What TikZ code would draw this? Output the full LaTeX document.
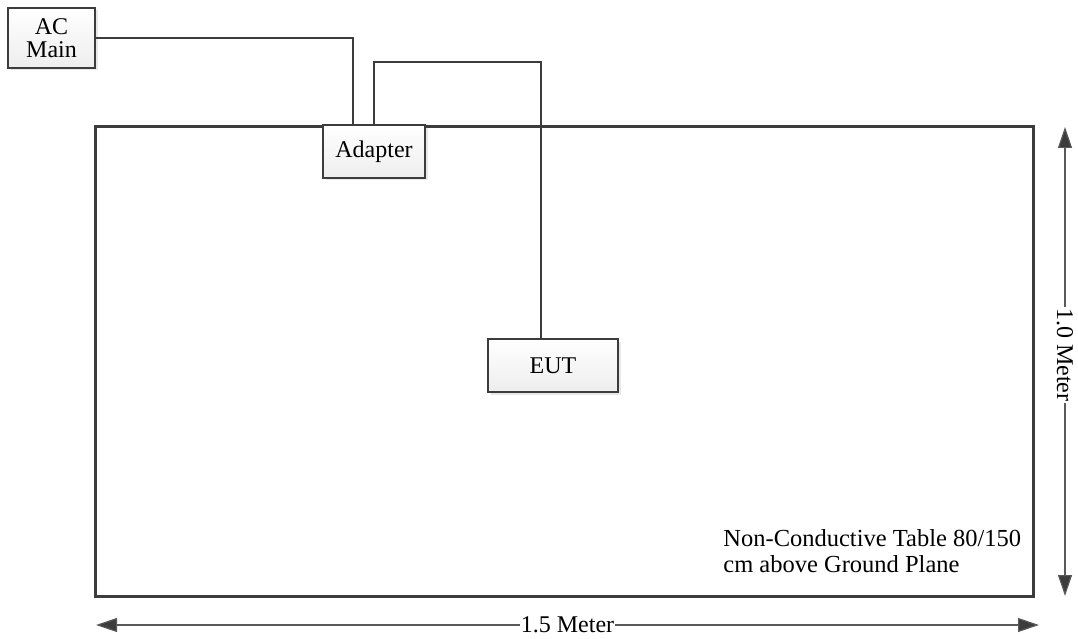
\documentclass[tikz,border=0pt]{standalone}
\usepackage{fontspec}
\setmainfont{Liberation Serif}
\usetikzlibrary{arrows.meta,shadows}
\definecolor{edge}{HTML}{3C3C3C}

\begin{document}
\begin{tikzpicture}[x=1pt,y=-1pt,thick,
  box/.style={draw=edge, line width=1.8pt, top color=white, bottom color=gray!14,
    drop shadow={shadow xshift=2.5pt, shadow yshift=-2.5pt, opacity=0.18},
    font=\fontsize{24}{25}\selectfont, inner sep=0pt, align=center},
  wire/.style={draw=edge, line width=1.6pt},
  dim/.style={draw=gray!70!black, line width=1.2pt, {Triangle[length=21pt,width=14pt,fill=edge]}-{Triangle[length=21pt,width=14pt,fill=edge]}},
  lbl/.style={font=\fontsize{24}{26}\selectfont, fill=white, inner sep=1pt}]

\useasboundingbox (0,0) rectangle (1078,639);

% table outline
\node[draw=edge, line width=3pt, minimum width=938pt, minimum height=469pt, inner sep=0pt] (table) at (564,361.5) {};

\node[box, minimum width=87pt, minimum height=60pt] (acmain) at (51.5,38) {AC\\[-2pt]Main};
\node[box, minimum width=102pt, minimum height=53pt] (adapter) at (374,151.5) {Adapter};
\node[box, minimum width=130pt, minimum height=53pt] (eut) at (553,365.5) {EUT};

\coordinate (acbend) at (353,38);
\coordinate (eutbend) at (374,62);

\draw[wire] (acmain.east) -- (acbend) -- ([xshift=-21pt]adapter.north);
\draw[wire] (adapter.north) -- (eutbend) -| ([xshift=-12pt]eut.north);

\node[font=\fontsize{24.5}{26}\selectfont, align=left, anchor=north west, inner sep=0pt] (note) at (723,529) {Non-Conductive Table 80/150\\cm above Ground Plane};

% dimensions
\coordinate (vtop) at (1065,127);
\coordinate (vbot) at (1065,596);
\coordinate (hleft) at (96,625);
\coordinate (hright) at (1039,625);

\draw[dim] (vtop) -- node[lbl, rotate=-90, pos=0.486] (height) {1.0 Meter} (vbot);
\draw[dim] (hleft) -- node[lbl] (width) {1.5 Meter} (hright);

\end{tikzpicture}
\end{document}
